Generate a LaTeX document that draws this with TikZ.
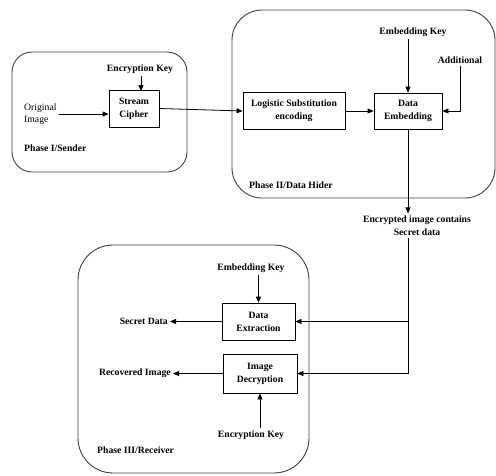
\documentclass[tikz,border=0pt]{standalone}
\usepackage{fontspec}
\setmainfont{Liberation Serif}
\usetikzlibrary{arrows.meta}
\begin{document}
\begin{tikzpicture}[x=1pt,y=1pt,
  every node/.style={font=\fontsize{9.7}{12.8}\selectfont\bfseries, inner sep=2pt},
  container/.style={draw=black!75, line width=0.9pt, rectangle, inner sep=0pt},
  procbox/.style={draw=black, line width=0.8pt, rectangle, align=center, inner sep=0pt},
  lbl/.style={align=center},
  arr/.style={line width=0.8pt, -{Triangle[length=6pt,width=5pt]}},
  ln/.style={line width=0.8pt}]
\useasboundingbox (0,0) rectangle (496,-475);
% containers
\node[container, rounded corners=20pt, minimum width=175pt, minimum height=120pt] (p1) at (99.5,-112) {};
\node[container, rounded corners=30pt, minimum width=263pt, minimum height=188pt] (p2) at (363.5,-104) {};
\node[container, rounded corners=35pt, minimum width=231pt, minimum height=228pt] (p3) at (193.5,-359) {};
% phase labels
\node[anchor=west] (l1) at (22,-148) {Phase I/Sender};
\node[anchor=west] (l2) at (247,-185) {Phase II/Data Hider};
\node[anchor=west] (l3) at (95,-450) {Phase III/Receiver};
% boxes
\node[procbox, minimum width=50pt, minimum height=37pt] (sc) at (134,-108.5) {Stream\\Cipher};
\node[procbox, minimum width=102pt, minimum height=37pt] (lse) at (294,-111) {Logistic Substitution\\encoding};
\node[procbox, minimum width=68pt, minimum height=36pt] (de) at (408,-111) {Data\\Embedding};
\node[procbox, minimum width=73pt, minimum height=37pt] (dx) at (258.5,-321.5) {Data\\Extraction};
\node[procbox, minimum width=74pt, minimum height=39pt] (id) at (260,-373.5) {Image\\Decryption};
% text labels
\node[lbl] (ek0) at (140,-69) {Encryption Key};
\node[align=left, anchor=west, font=\fontsize{9.7}{12.5}\selectfont] (orig) at (22,-114) {Original\\Image};
\node[lbl] (emk1) at (413,-32) {Embedding Key};
\node[lbl] (add) at (460,-60) {Additional};
\node[lbl] (encd) at (417,-225.5) {Encrypted image contains\\Secret data};
\node[lbl] (emk2) at (251,-268) {Embedding Key};
\node[lbl] (ek2) at (251,-435) {Encryption Key};
\node[anchor=east] (sd) at (170,-321.5) {Secret Data};
\node[anchor=east] (ri) at (173,-373.5) {Recovered Image};
\coordinate (turn) at (408,-373.5);
% connectors
\draw[arr] (ek0.south -| sc.north) ++(7,0) -- ++(0,-15.5);
\draw[arr] (orig.east) -- (orig.east -| sc.west);
\draw[arr] (sc.east) -- (lse.west);
\draw[arr] (lse.east) -- (lse.east -| de.west);
\draw[arr] (emk1.south -| de.north) -- (de.north);
\draw[arr] (add.south) |- (de.east);
\draw[arr] (de.south) -- (de.south |- encd.north);
\draw[ln] (encd.south -| de.south) -- (turn);
\draw[arr] (turn) -- (id.east);
\draw[arr] (dx.east -| turn) -- (dx.east);
\draw[arr] (dx.west) -- (sd.east);
\draw[arr] (id.west) -- (ri.east);
\draw[arr] (emk2.south -| dx.north) -- (dx.north);
\draw[arr] (ek2.north -| id.south) -- (id.south);
\end{tikzpicture}
\end{document}
